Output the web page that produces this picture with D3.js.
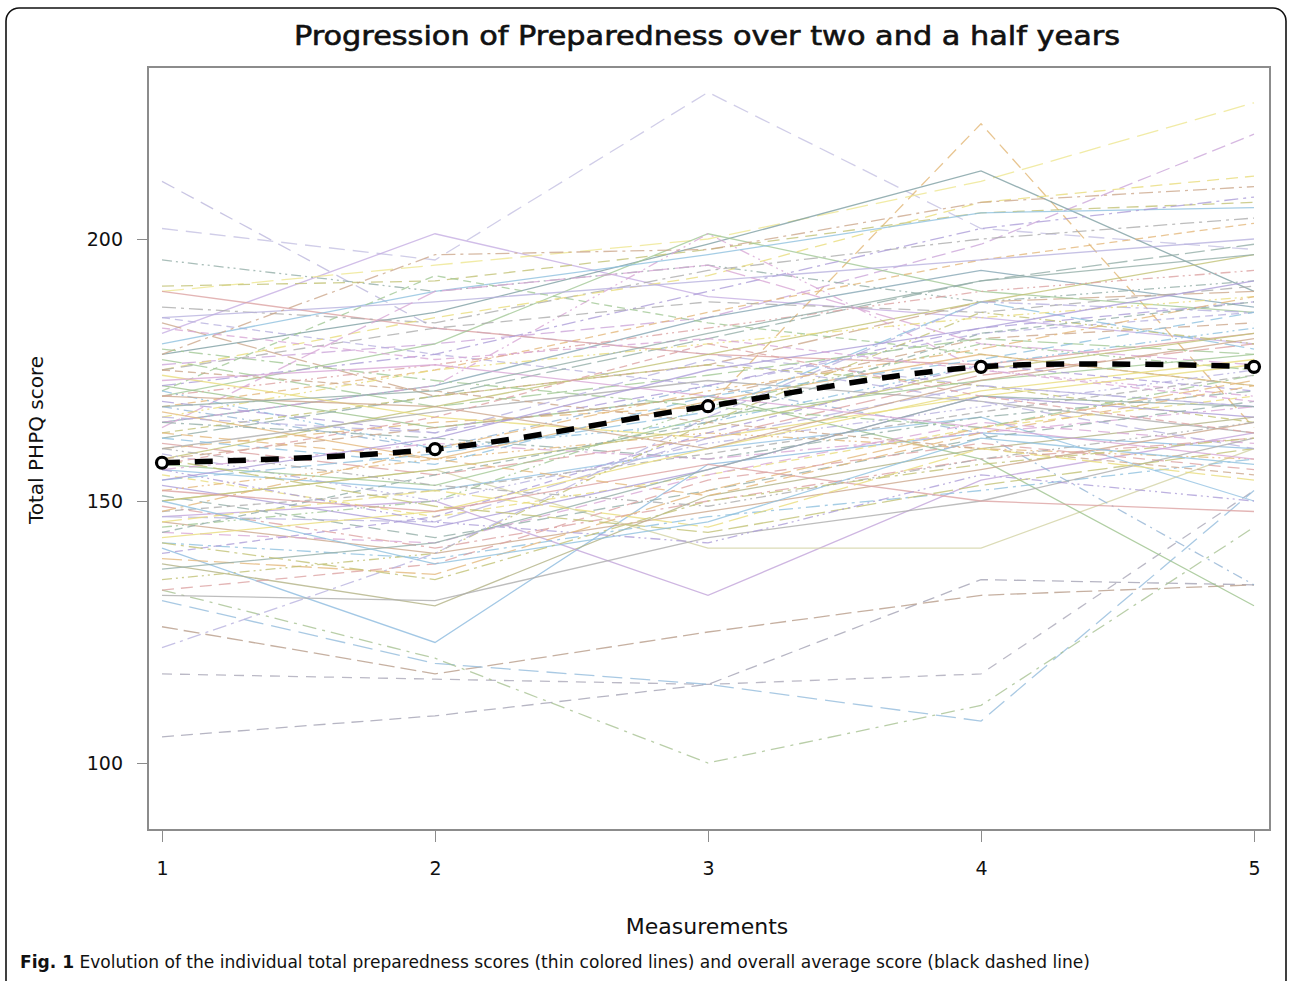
<!DOCTYPE html>
<html>
<head>
<meta charset="utf-8">
<script src="https://cdn.jsdelivr.net/npm/d3@7"></script>
<style>
  body { margin: 0; background: #fff; }
  text { font-family: "DejaVu Sans", sans-serif; fill: #111; }
</style>
</head>
<body>
<svg id="chart" width="1292" height="981"></svg>
<script>
// measurement occasions (x axis)
var measurements = [1, 2, 3, 4, 5];
var yTicks = [100, 150, 200];

// overall average score at each measurement
var average = [157.3, 159.9, 168.1, 175.6, 175.6];

// individual total PHPQ scores, one row per participant
var scores = [
  [211, 183, 178, 172, 168],
  [202, 196, 228, 202, 198],
  [182, 201, 189, 185, 180],
  [160, 165, 168, 222, 164],
  [190, 195, 200, 211, 226],
  [176, 180, 185, 199, 220],
  [178, 186, 199, 213, 190],
  [165, 172, 185, 194, 187],
  [105, 109, 115, 135, 134],
  [117, 116, 115, 117, 152],
  [126, 117, 125, 132, 134],
  [131, 119, 115, 108, 152],
  [133, 120, 100, 111, 145],
  [141, 123, 157, 163, 160],
  [138, 130, 151, 160, 166],
  [147, 150, 132, 154, 163],
  [150, 156, 141, 141, 160],
  [172, 164, 170, 158, 130],
  [168, 160, 172, 163, 134],
  [156, 152, 160, 166, 150],
  [196, 190, 195, 188, 192],
  [191, 192, 198, 205, 207],
  [190, 183, 178, 176, 182],
  [187, 184, 194, 200, 204],
  [185, 178, 172, 182, 186],
  [184, 170, 176, 188, 190],
  [170, 180, 201, 190, 186],
  [165, 172, 201, 175, 170],
  [175, 185, 193, 207, 212],
  [180, 190, 197, 205, 206],
  [172, 178, 190, 202, 208],
  [168, 175, 186, 196, 203],
  [162, 170, 181, 192, 199],
  [158, 168, 178, 188, 197],
  [170, 176, 183, 190, 194],
  [175, 183, 188, 186, 191],
  [185, 188, 192, 196, 200],
  [178, 197, 198, 207, 210],
  [171, 193, 184, 178, 172],
  [164, 190, 195, 180, 176],
  [174, 166, 162, 170, 176],
  [171, 160, 165, 176, 183],
  [169, 163, 172, 183, 188],
  [167, 158, 169, 178, 172],
  [165, 162, 158, 166, 171],
  [163, 170, 176, 172, 165],
  [161, 155, 162, 174, 180],
  [160, 167, 173, 169, 163],
  [159, 150, 161, 168, 175],
  [158, 164, 170, 181, 184],
  [157, 153, 166, 173, 178],
  [156, 161, 158, 163, 168],
  [155, 147, 155, 164, 170],
  [154, 159, 167, 188, 179],
  [153, 145, 156, 170, 166],
  [152, 158, 163, 160, 158],
  [151, 143, 152, 162, 169],
  [150, 156, 164, 175, 182],
  [149, 141, 150, 158, 162],
  [148, 152, 159, 167, 174],
  [147, 146, 162, 172, 168],
  [146, 140, 148, 156, 165],
  [145, 150, 168, 180, 175],
  [144, 142, 155, 165, 161],
  [143, 148, 160, 171, 177],
  [142, 139, 147, 152, 158],
  [140, 147, 163, 176, 171],
  [139, 136, 152, 164, 173],
  [137, 142, 156, 170, 168],
  [135, 140, 165, 186, 180],
  [133, 138, 154, 161, 156],
  [132, 131, 143, 150, 162],
  [122, 140, 166, 188, 186],
  [175, 171, 165, 160, 155],
  [177, 168, 174, 181, 178],
  [173, 176, 170, 164, 158],
  [166, 175, 180, 185, 189],
  [162, 157, 170, 177, 186],
  [154, 162, 175, 183, 192],
  [148, 160, 171, 179, 189],
  [144, 155, 165, 182, 188],
  [158, 149, 144, 153, 160],
  [152, 148, 157, 150, 148],
  [160, 153, 149, 158, 165],
  [166, 163, 177, 169, 160],
  [170, 168, 160, 173, 181],
  [179, 173, 168, 164, 174],
  [183, 177, 181, 175, 169],
  [146, 152, 145, 160, 154],
  [150, 138, 146, 162, 157],
  [156, 146, 142, 155, 150],
  [163, 158, 151, 163, 172],
  [168, 171, 182, 192, 197],
  [142, 135, 150, 157, 162],
  [157, 166, 180, 170, 163]
];

// look of the first, easy to spot participants (colour, dash)
var featured = [
  ["#bcb6dc", "14,8"], ["#c4c0e2", "16,8"], ["#c6aee2", "none"], ["#e2b676", "12,7"],
  ["#ede690", "22,8"], ["#cca6da", "14,6"], ["#7e9fa2", "none"], ["#86a6b4", "none"],
  ["#a4a2b4", "12,7"], ["#aaa8b8", "10,8"], ["#b89c8a", "16,6"], ["#94bcdc", "20,8"],
  ["#a8c292", "14,6,3,6"], ["#8cbade", "none"], ["#b2b284", "none"], ["#c2a4da", "none"],
  ["#d2d2a4", "none"], ["#9cc28c", "none"], ["#94b4d4", "10,5,2,5"], ["#94c2e2", "none"]
];
// pastel colours and dash styles cycled over the rest
var palette = ["#b8b2de", "#cca88c", "#a2c896", "#d8a8d6", "#e8dc7c", "#8ec0de",
               "#ac9ed8", "#e4b87c", "#94aea8", "#c2c276", "#dca2a2", "#adadad"];
var dashes = ["12,7", "none", "14,5,3,5", "8,5", "20,6", "none", "10,4,2,4,2,4"];

function lineColor(i) { return i < featured.length ? featured[i][0] : palette[i % palette.length]; }
function lineDash(i) { return i < featured.length ? featured[i][1] : dashes[i % dashes.length]; }

var svg = d3.select("#chart");

// outer figure border
svg.append("rect")
    .attr("x", 6).attr("y", 8)
    .attr("width", 1280).attr("height", 985)
    .attr("rx", 13)
    .attr("fill", "none")
    .attr("stroke", "#111")
    .attr("stroke-width", 1.6);

// plot area box (don't call it "top", that's window.top)
var plotL = 148, plotR = 1270, plotT = 67, plotB = 830;

var x = d3.scaleLinear().domain([1, 5]).range([162, 1254]);
var y = d3.scaleLinear().domain([100, 200]).range([763, 239]);

svg.append("defs").append("clipPath").attr("id", "plotclip")
  .append("rect")
    .attr("x", plotL).attr("y", plotT)
    .attr("width", plotR - plotL).attr("height", plotB - plotT);

// title
svg.append("text")
    .attr("x", 707).attr("y", 45)
    .attr("text-anchor", "middle")
    .attr("font-size", "26px")
    .attr("stroke", "#111")
    .attr("stroke-width", 0.6)
    .attr("textLength", 826)
    .attr("lengthAdjust", "spacingAndGlyphs")
    .text("Progression of Preparedness over two and a half years");

// individual lines
var line = d3.line()
    .x(function(d, i){ return x(measurements[i]); })
    .y(function(d){ return y(d); });

svg.append("g")
    .attr("clip-path", "url(#plotclip)")
  .selectAll("path.person")
  .data(scores)
  .enter().append("path")
    .attr("class", "person")
    .attr("d", line)
    .attr("fill", "none")
    .attr("stroke", function(d, i){ return lineColor(i); })
    .attr("stroke-width", 1.3)
    .attr("stroke-dasharray", function(d, i){ return lineDash(i); })
    .attr("opacity", 0.8);

// average line (smoothed, thick black dashes)
var avgLine = d3.line()
    .x(function(d, i){ return x(measurements[i]); })
    .y(function(d){ return y(d); })
    .curve(d3.curveCardinal);

svg.append("path")
    .datum(average)
    .attr("d", avgLine)
    .attr("fill", "none")
    .attr("stroke", "#000")
    .attr("stroke-width", 5.5)
    .attr("stroke-dasharray", "18,15");

svg.selectAll("circle.avg")
  .data(average)
  .enter().append("circle")
    .attr("class", "avg")
    .attr("cx", function(d, i){ return x(measurements[i]); })
    .attr("cy", function(d){ return y(d); })
    .attr("r", 5.5)
    .attr("fill", "#fff")
    .attr("stroke", "#000")
    .attr("stroke-width", 3.2);

// plot frame
svg.append("rect")
    .attr("x", plotL).attr("y", plotT)
    .attr("width", plotR - plotL).attr("height", plotB - plotT)
    .attr("fill", "none")
    .attr("stroke", "#8c8c8c")
    .attr("stroke-width", 2);

// axes
var yAxis = d3.axisLeft(y).tickValues(yTicks).tickSize(11).tickPadding(14);
var gy = svg.append("g").attr("transform", "translate(" + plotL + ",0)").call(yAxis);
gy.select(".domain").remove();
gy.selectAll("line").attr("stroke", "#8c8c8c");
gy.selectAll("text").attr("font-size", "19px").attr("fill", "#111")
    .attr("font-family", "DejaVu Sans, sans-serif");

var xAxis = d3.axisBottom(x).tickValues(measurements).tickFormat(d3.format("d"))
    .tickSize(12).tickPadding(20);
var gx = svg.append("g").attr("transform", "translate(0," + plotB + ")").call(xAxis);
gx.select(".domain").remove();
gx.selectAll("line").attr("stroke", "#8c8c8c");
gx.selectAll("text").attr("font-size", "19px").attr("fill", "#111")
    .attr("font-family", "DejaVu Sans, sans-serif");

// axis titles
svg.append("text")
    .attr("x", 707).attr("y", 934)
    .attr("text-anchor", "middle")
    .attr("font-size", "22px")
    .text("Measurements");

svg.append("text")
    .attr("transform", "translate(43,440) rotate(-90)")
    .attr("text-anchor", "middle")
    .attr("font-size", "20px")
    .text("Total PHPQ score");

// caption
var cap = svg.append("text")
    .attr("x", 20).attr("y", 968)
    .attr("font-size", "18px")
    .attr("font-family", "Liberation Sans Narrow, DejaVu Sans Condensed, sans-serif")
    .attr("textLength", 1070)
    .attr("lengthAdjust", "spacingAndGlyphs");
cap.append("tspan").attr("font-weight", "bold").text("Fig. 1");
cap.append("tspan").text(" Evolution of the individual total preparedness scores (thin colored lines) and overall average score (black dashed line)");
</script>
</body>
</html>
